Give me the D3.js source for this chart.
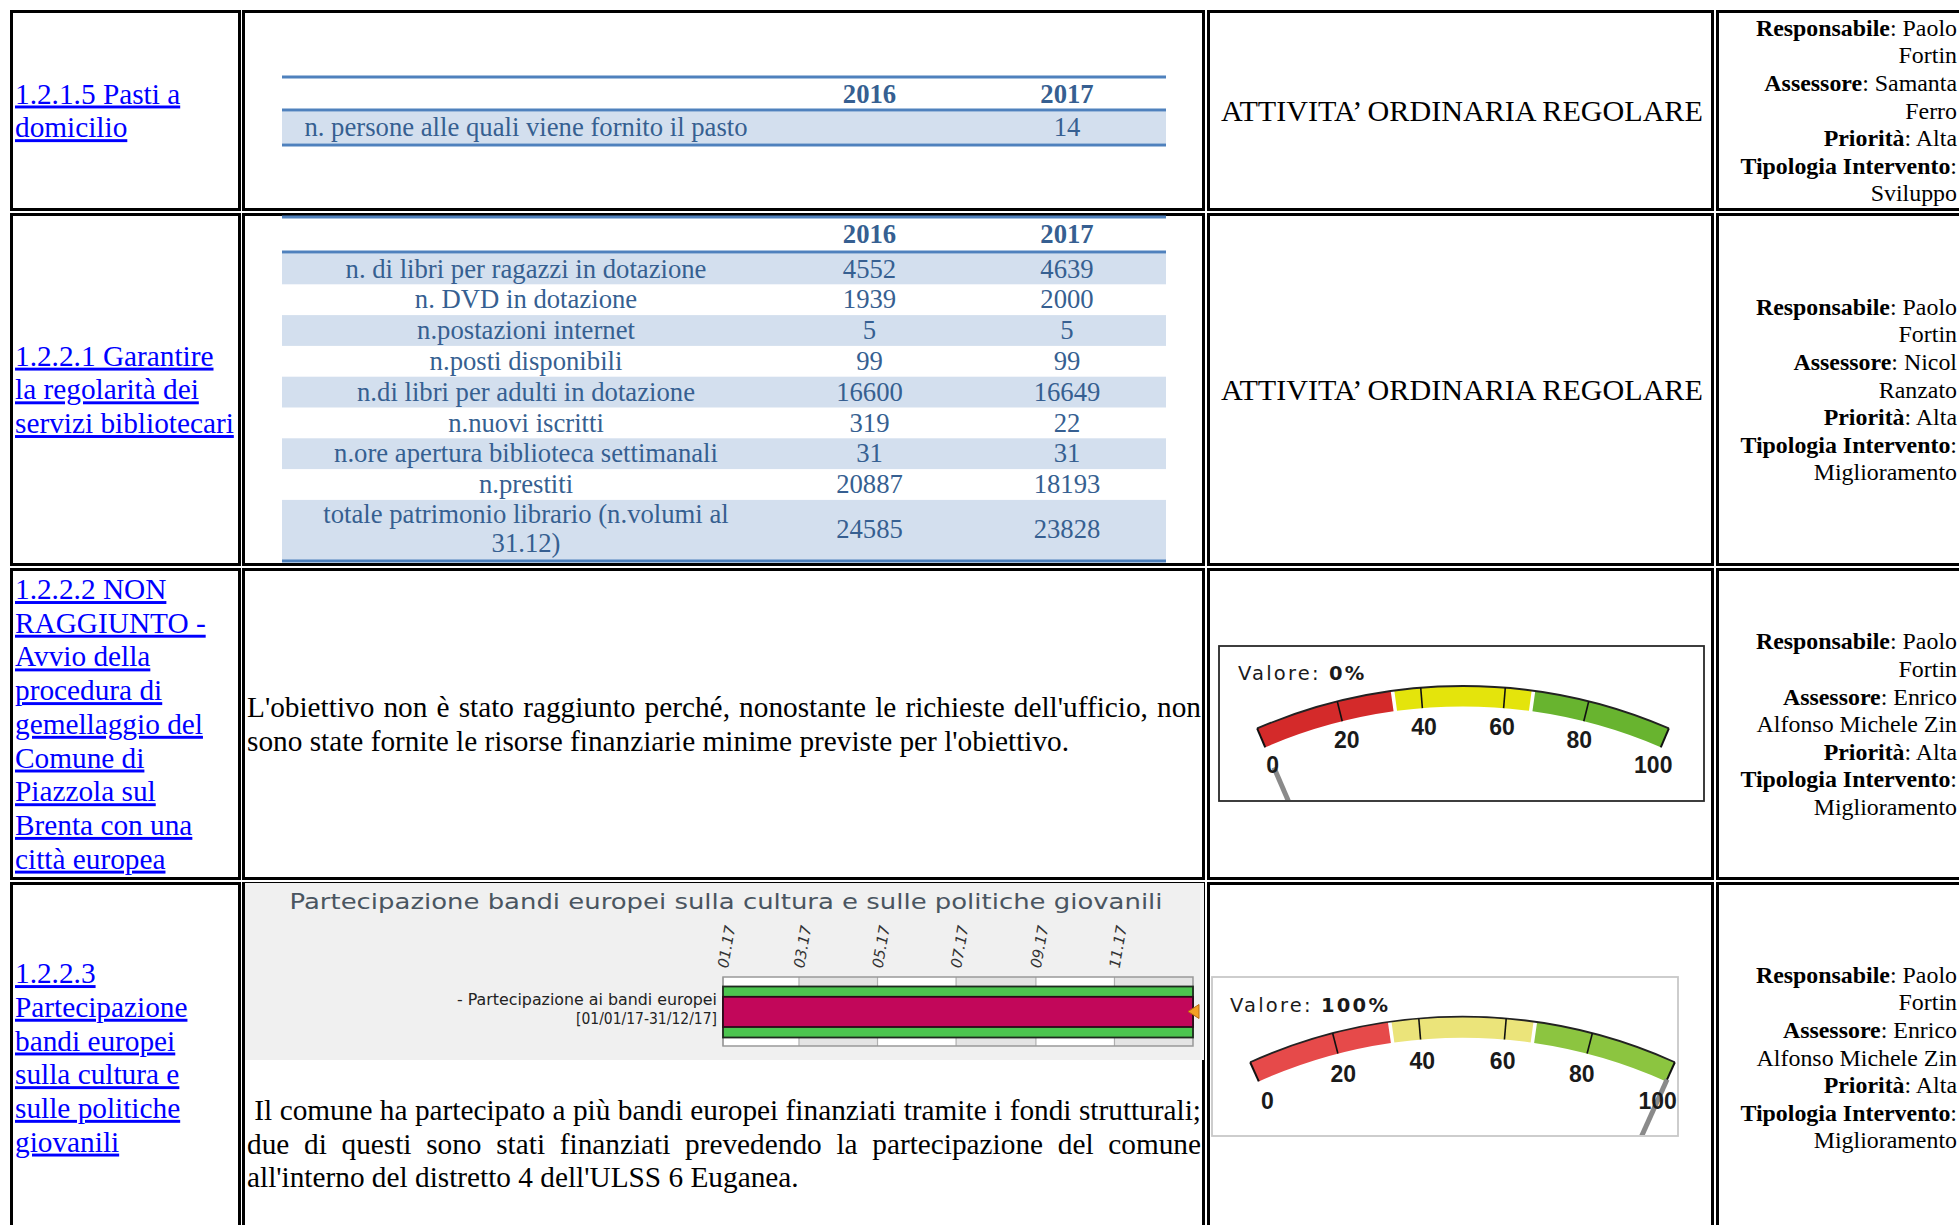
<!DOCTYPE html>
<html><head><meta charset="utf-8">
<script src="https://cdn.jsdelivr.net/npm/d3@7"></script>
<style>
html,body{margin:0;padding:0;background:#fff;overflow:hidden;}
svg{display:block;}
</style></head><body>
<script>
// ---------------- DATA ----------------
const years = ["2016", "2017"];
const linkLines = [
  ["1.2.1.5 Pasti a", "domicilio"],
  ["1.2.2.1 Garantire", "la regolarità dei", "servizi bibliotecari"],
  ["1.2.2.2 NON", "RAGGIUNTO -", "Avvio della", "procedura di", "gemellaggio del", "Comune di", "Piazzola sul", "Brenta con una", "città europea"],
  ["1.2.2.3", "Partecipazione", "bandi europei", "sulla cultura e", "sulle politiche", "giovanili"]
];
const mealLabels = ["n. persone alle quali viene fornito il pasto"];
const meal2016 = [""];
const meal2017 = ["14"];
const libLabels = [
  ["n. di libri per ragazzi in dotazione"], ["n. DVD in dotazione"], ["n.postazioni internet"],
  ["n.posti disponibili"], ["n.di libri per adulti in dotazione"], ["n.nuovi iscritti"],
  ["n.ore apertura biblioteca settimanali"], ["n.prestiti"], ["totale patrimonio librario (n.volumi al", "31.12)"]
];
const lib2016 = [4552, 1939, 5, 99, 16600, 319, 31, 20887, 24585];
const lib2017 = [4639, 2000, 5, 99, 16649, 22, 31, 18193, 23828];
const statusText = "ATTIVITA’ ORDINARIA REGOLARE";
const notReachedText = [
  "L'obiettivo non è stato raggiunto perché, nonostante le richieste dell'ufficio, non",
  "sono state fornite le risorse finanziarie minime previste per l'obiettivo."
];
const europeText = [
  " Il comune ha partecipato a più bandi europei finanziati tramite i fondi strutturali;",
  "due di questi sono stati finanziati prevedendo la partecipazione del comune",
  "all'interno del distretto 4 dell'ULSS 6 Euganea."
];
const infoRow1 = [["Responsabile", ": Paolo"], ["", "Fortin"], ["Assessore", ": Samanta"], ["", "Ferro"], ["Priorità", ": Alta"], ["Tipologia Intervento", ":"], ["", "Sviluppo"]];
const infoRow2 = [["Responsabile", ": Paolo"], ["", "Fortin"], ["Assessore", ": Nicol"], ["", "Ranzato"], ["Priorità", ": Alta"], ["Tipologia Intervento", ":"], ["", "Miglioramento"]];
const infoRow3 = [["Responsabile", ": Paolo"], ["", "Fortin"], ["Assessore", ": Enrico"], ["", "Alfonso Michele Zin"], ["Priorità", ": Alta"], ["Tipologia Intervento", ":"], ["", "Miglioramento"]];
const infoRow4 = [["Responsabile", ": Paolo"], ["", "Fortin"], ["Assessore", ": Enrico"], ["", "Alfonso Michele Zin"], ["Priorità", ": Alta"], ["Tipologia Intervento", ":"], ["", "Miglioramento"]];
const gaugeValues = [0, 100];
const gaugeTicks = [0, 20, 40, 60, 80, 100];
const gaugeBandLimits = [0, 33.3, 66.7, 100];
const ganttTitle = "Partecipazione bandi europei sulla cultura e sulle politiche giovanili";
const ganttTask = ["- Partecipazione ai bandi europei", "[01/01/17-31/12/17]"];
const ganttStart = "2017-01-01";
const ganttEnd = "2017-12-31";
const ganttTickDates = ["2017-01-01", "2017-03-01", "2017-05-01", "2017-07-01", "2017-09-01", "2017-11-01"];
const ganttTickLabels = ["01.17", "03.17", "05.17", "07.17", "09.17", "11.17"];

// ---------------- LAYOUT ----------------
const W = 1959, H = 1225;
const SERIF = "'Liberation Serif','Times New Roman',serif";
const SANS = "'DejaVu Sans',Verdana,sans-serif";
const ARIAL = "'Liberation Sans',Arial,sans-serif";
const svg = d3.select("body").append("svg").attr("width", W).attr("height", H);
const defs = svg.append("defs");

const colEdges = [[10, 241], [242, 1205], [1207, 1714], [1716, 1975]];
const rowEdges = [[10, 211], [213, 566], [568, 880], [882, 1233]];
const rowMid = r => (rowEdges[r][0] + rowEdges[r][1]) / 2;

const measurer = svg.append("text").attr("visibility", "hidden");
function textW(str, family, size, weight) {
  measurer.attr("font-family", family).attr("font-size", size).attr("font-weight", weight || "normal").text(str);
  return measurer.node().getComputedTextLength();
}

// cell borders
const cells = d3.cross(d3.range(rowEdges.length), d3.range(colEdges.length));
svg.append("g").selectAll("rect").data(cells).join("rect")
  .attr("x", d => colEdges[d[1]][0] + 1.5)
  .attr("y", d => rowEdges[d[0]][0] + 1.5)
  .attr("width", d => colEdges[d[1]][1] - colEdges[d[1]][0] - 3)
  .attr("height", d => rowEdges[d[0]][1] - rowEdges[d[0]][0] - 3)
  .attr("fill", "none").attr("stroke", "#000").attr("stroke-width", 3);

// ---------- column 1: links ----------
const LINK_FS = 29.3, LINK_LH = 33.7, LINK_BO = 26.7;
const gLinks = svg.append("g");
linkLines.forEach((lines, r) => {
  const top = rowMid(r) - lines.length * LINK_LH / 2;
  gLinks.selectAll(null).data(lines).join("text")
    .attr("x", 15).attr("y", (d, i) => top + i * LINK_LH + LINK_BO)
    .attr("font-family", SERIF).attr("font-size", LINK_FS)
    .attr("fill", "#0000ff").style("text-decoration", "underline")
    .text(d => d);
});

// ---------- column 4: info ----------
const INFO_FS = 23.9, INFO_LH = 27.6, INFO_BO = 21.9;
const gInfo = svg.append("g");
[infoRow1, infoRow2, infoRow3, infoRow4].forEach((lines, r) => {
  const top = rowMid(r) - lines.length * INFO_LH / 2;
  lines.forEach((ln, i) => {
    const t = gInfo.append("text").attr("x", 1957).attr("y", top + i * INFO_LH + INFO_BO)
      .attr("text-anchor", "end").attr("font-family", SERIF).attr("font-size", INFO_FS).attr("fill", "#000");
    if (ln[0]) t.append("tspan").attr("font-weight", "bold").text(ln[0]);
    t.append("tspan").text(ln[1]);
  });
});

// ---------- column 3 rows 1-2: status ----------
[0, 1].forEach(r => {
  svg.append("text").attr("x", 1221).attr("y", rowMid(r) + 10)
    .attr("font-family", SERIF).attr("font-size", 30.1).attr("fill", "#000").text(statusText);
});

// ---------- data tables ----------
const T_LEFT = 282, T_RIGHT = 1166, LABEL_X = 526;
const colX = d3.scalePoint().domain(years).range([869.5, 1067]);
const TBLUE = "#4f81bd", TSHADE = "#d3dfee", TTEXT = "#365f91", TFS = 26.7;

function hLine(g, y) {
  g.append("line").attr("x1", T_LEFT).attr("x2", T_RIGHT).attr("y1", y).attr("y2", y)
    .attr("stroke", TBLUE).attr("stroke-width", 3);
}
function tText(g, x, y, s, anchor, bold) {
  g.append("text").attr("x", x).attr("y", y).attr("text-anchor", anchor || "middle")
    .attr("font-family", SERIF).attr("font-size", TFS).attr("fill", TTEXT)
    .attr("font-weight", bold ? "bold" : "normal").text(s);
}

// table 1 (meals)
const gT1 = svg.append("g");
const y1 = d3.scaleLinear().domain([0, mealLabels.length]).range([111.5, 143.5]);
mealLabels.forEach((lab, i) => {
  gT1.append("rect").attr("x", T_LEFT).attr("y", y1(i)).attr("width", T_RIGHT - T_LEFT).attr("height", y1(i + 1) - y1(i)).attr("fill", TSHADE);
  tText(gT1, LABEL_X, y1(i) + 24, lab);
  tText(gT1, colX("2016"), y1(i) + 24, meal2016[i]);
  tText(gT1, colX("2017"), y1(i) + 24, meal2017[i]);
});
hLine(gT1, 77); hLine(gT1, 110); hLine(gT1, 145);
years.forEach(yr => tText(gT1, colX(yr), 103, yr, "middle", true));

// table 2 (library)
const gT2 = svg.append("g");
const units = libLabels.map(l => l.length);
const cum = [0]; units.forEach(u => cum.push(cum[cum.length - 1] + u));
const y2 = d3.scaleLinear().domain([0, cum[cum.length - 1]]).range([253.5, 561.5]);
libLabels.forEach((lab, i) => {
  const top = y2(cum[i]), bot = y2(cum[i + 1]);
  if (i % 2 === 0) gT2.append("rect").attr("x", T_LEFT).attr("y", top).attr("width", T_RIGHT - T_LEFT).attr("height", bot - top).attr("fill", TSHADE);
  if (lab.length === 1) {
    tText(gT2, LABEL_X, top + 24, lab[0]);
    tText(gT2, colX("2016"), top + 24, lib2016[i]);
    tText(gT2, colX("2017"), top + 24, lib2017[i]);
  } else {
    lab.forEach((l, k) => tText(gT2, LABEL_X, top + 23 + k * 29, l));
    tText(gT2, colX("2016"), top + 38, lib2016[i]);
    tText(gT2, colX("2017"), top + 38, lib2017[i]);
  }
});
hLine(gT2, 217); hLine(gT2, 252); hLine(gT2, 561);
years.forEach(yr => tText(gT2, colX(yr), 243, yr, "middle", true));

// ---------- justified paragraphs ----------
function paraLine(g, str, x0, x1, y, just) {
  let indent = 0;
  if (str.startsWith(" ")) { indent = LINK_FS * 0.25; str = str.trim(); }
  const t = g.append("text").attr("y", y).attr("font-family", SERIF).attr("font-size", LINK_FS).attr("fill", "#000");
  if (!just) { t.attr("x", x0 + indent).text(str); return; }
  const words = str.split(" ");
  const widths = words.map(w => textW(w, SERIF, LINK_FS));
  const gap = (x1 - x0 - indent - d3.sum(widths)) / (words.length - 1);
  let x = x0 + indent;
  words.forEach((w, i) => { t.append("tspan").attr("x", x).text(w); x += widths[i] + gap; });
}
const gP = svg.append("g");
notReachedText.forEach((s, i) => paraLine(gP, s, 247, 1201, 717 + i * LINK_LH, i < notReachedText.length - 1));
europeText.forEach((s, i) => paraLine(gP, s, 247, 1201, 1120 + i * LINK_LH, i < europeText.length - 1));

// ---------- gauges ----------
const gaugeCfgs = [
  { id: "gclip1", box: [1219, 646, 1704, 801], boxStroke: "#2a2a2a", cx: 1463, cy: 1206.5, rOut: 520.5, rIn: 500,
    theta: 23.3, rLab: 481, valX: 1238, valY: 680, colors: ["#d42a2a", "#e4e40c", "#68b42f"], needle: [400, 478] },
  { id: "gclip2", box: [1212, 977, 1678, 1136], boxStroke: "#c8c8c8", cx: 1462.5, cy: 1534.7, rOut: 518, rIn: 497,
    theta: 24.2, rLab: 476, valX: 1230, valY: 1012, colors: ["#e64a4a", "#ebe47a", "#8cc540"], needle: [400, 499] }
];
gaugeCfgs.forEach((cfg, gi) => {
  const value = gaugeValues[gi];
  const g = svg.append("g");
  const [bx0, by0, bx1, by1] = cfg.box;
  g.append("rect").attr("x", bx0).attr("y", by0).attr("width", bx1 - bx0).attr("height", by1 - by0)
    .attr("fill", "#fff").attr("stroke", cfg.boxStroke).attr("stroke-width", 1.8);
  defs.append("clipPath").attr("id", cfg.id).append("rect")
    .attr("x", bx0 + 1).attr("y", by0 + 1).attr("width", bx1 - bx0 - 2).attr("height", by1 - by0 - 2);
  const inner = g.append("g").attr("clip-path", `url(#${cfg.id})`);
  const c = inner.append("g").attr("transform", `translate(${cfg.cx},${cfg.cy})`);
  const th = cfg.theta * Math.PI / 180;
  const ang = d3.scaleLinear().domain([0, 100]).range([-th, th]);
  const arc = d3.arc().innerRadius(cfg.rIn).outerRadius(cfg.rOut);
  const pad = 0.0035;
  d3.range(gaugeBandLimits.length - 1).forEach(i => {
    c.append("path").attr("d", arc({
      startAngle: ang(gaugeBandLimits[i]) + (i > 0 ? pad : 0),
      endAngle: ang(gaugeBandLimits[i + 1]) - (i < gaugeBandLimits.length - 2 ? pad : 0)
    })).attr("fill", cfg.colors[i]);
  });
  const p = d3.path();
  p.arc(0, 0, cfg.rOut, ang(0) - Math.PI / 2, ang(100) - Math.PI / 2);
  c.append("path").attr("d", p.toString()).attr("fill", "none").attr("stroke", "#222").attr("stroke-width", 1.8);
  const pt = (r, v) => [r * Math.sin(ang(v)), -r * Math.cos(ang(v))];
  c.selectAll("line.tick").data(gaugeTicks).join("line").attr("class", "tick")
    .attr("x1", d => pt(cfg.rIn, d)[0]).attr("y1", d => pt(cfg.rIn, d)[1])
    .attr("x2", d => pt(cfg.rOut, d)[0]).attr("y2", d => pt(cfg.rOut, d)[1])
    .attr("stroke", "#111").attr("stroke-width", d => (d === 0 || d === 100) ? 2 : 1.6);
  c.append("line")
    .attr("x1", pt(cfg.needle[0], value)[0]).attr("y1", pt(cfg.needle[0], value)[1])
    .attr("x2", pt(cfg.needle[1], value)[0]).attr("y2", pt(cfg.needle[1], value)[1])
    .attr("stroke", "#8a8a8a").attr("stroke-width", 5);
  c.selectAll("text.lab").data(gaugeTicks).join("text").attr("class", "lab")
    .attr("x", d => pt(cfg.rLab, d)[0]).attr("y", d => pt(cfg.rLab, d)[1])
    .attr("dy", "0.36em").attr("text-anchor", "middle")
    .attr("font-family", ARIAL).attr("font-weight", "bold").attr("font-size", 23).attr("fill", "#1a1a1a")
    .text(d => d);
  const vt = g.append("text").attr("x", cfg.valX).attr("y", cfg.valY)
    .attr("font-family", SANS).attr("font-size", 19.5).attr("fill", "#1a1a1a").style("letter-spacing", "2.2px");
  vt.append("tspan").text("Valore: ");
  vt.append("tspan").attr("font-weight", "bold").text(value + "%");
});

// ---------- gantt ----------
const parse = d3.timeParse("%Y-%m-%d");
const gG = svg.append("g");
gG.append("rect").attr("x", 245).attr("y", 883).attr("width", 959).attr("height", 177).attr("fill", "#f0f0f0");
gG.append("text").attr("x", 289.5).attr("y", 909).attr("font-family", SANS).attr("font-size", 21.5)
  .attr("fill", "#4a5560").attr("textLength", 873).attr("lengthAdjust", "spacingAndGlyphs").text(ganttTitle);

const startD = parse(ganttStart), endD = d3.timeDay.offset(parse(ganttEnd), 1);
const gx = d3.scaleTime().domain([d3.timeYear.floor(startD), d3.timeYear.offset(d3.timeYear.floor(startD), 1)]).range([723, 1193]);
const PT = 977, PB = 1046;
const tickDates = ganttTickDates.map(parse);
const bandEdges = tickDates.concat([gx.domain()[1]]);
gG.selectAll("rect.band").data(d3.range(tickDates.length)).join("rect").attr("class", "band")
  .attr("x", i => gx(bandEdges[i])).attr("y", PT)
  .attr("width", i => gx(bandEdges[i + 1]) - gx(bandEdges[i])).attr("height", PB - PT)
  .attr("fill", i => i % 2 ? "#e4e4e4" : "#ffffff");
gG.selectAll("line.grid").data(tickDates).join("line").attr("class", "grid")
  .attr("x1", d => gx(d)).attr("x2", d => gx(d)).attr("y1", PT).attr("y2", PB)
  .attr("stroke", "#b0b0b0").attr("stroke-width", 1.2);
gG.append("rect").attr("x", gx.range()[0]).attr("y", PT).attr("width", gx.range()[1] - gx.range()[0]).attr("height", PB - PT)
  .attr("fill", "none").attr("stroke", "#999").attr("stroke-width", 1.5);
gG.append("rect").attr("x", gx(startD)).attr("y", 986.5).attr("width", gx(endD) - gx(startD)).attr("height", 51)
  .attr("fill", "#4cc54f").attr("stroke", "#1e2a1e").attr("stroke-width", 1.8);
gG.append("rect").attr("x", gx(startD)).attr("y", 996.8).attr("width", gx(endD) - gx(startD)).attr("height", 30.2)
  .attr("fill", "#c2075a").attr("stroke", "#2a0a18").attr("stroke-width", 1.8);
const mx = gx(endD), my = 1011.5;
gG.append("path").attr("d", `M${mx - 5},${my} L${mx + 6},${my - 7} L${mx + 6},${my + 7} Z`)
  .attr("fill", "#f5a023").attr("stroke", "#b86a10").attr("stroke-width", 1);
const axis = d3.axisTop(gx).tickValues(tickDates).tickFormat((d, i) => ganttTickLabels[i]).tickSize(0);
const ax = gG.append("g").attr("transform", "translate(0,968)").call(axis);
ax.select(".domain").remove();
ax.selectAll("text").attr("x", 0).attr("y", 0).attr("dy", "0.3em").attr("transform", "rotate(-80)")
  .style("text-anchor", "start").attr("font-family", SANS).attr("font-size", 15).attr("font-style", "italic").attr("fill", "#333");
const taskLens = [260, 141];
ganttTask.forEach((s, i) => {
  gG.append("text").attr("x", 717).attr("y", 1005 + i * 19).attr("text-anchor", "end")
    .attr("font-family", SANS).attr("font-size", 15).attr("fill", "#222")
    .attr("textLength", taskLens[i]).attr("lengthAdjust", "spacingAndGlyphs").text(s);
});
</script>
</body></html>
